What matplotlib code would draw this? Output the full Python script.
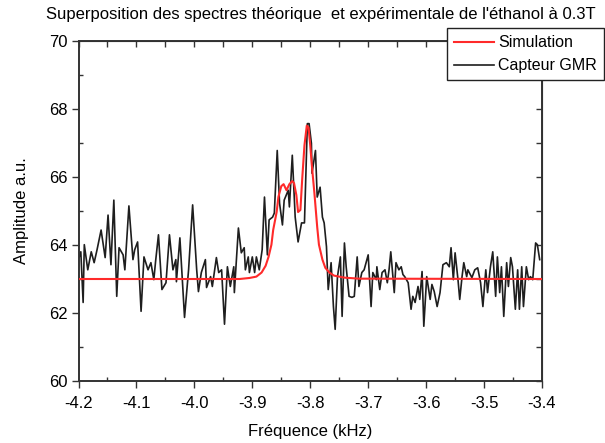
import matplotlib
matplotlib.use("Agg")
import matplotlib.pyplot as plt
from matplotlib.ticker import MultipleLocator, FormatStrFormatter

plt.rcParams['font.family'] = ['Liberation Sans', 'DejaVu Sans']

title = "Superposition des spectres théorique  et expérimentale de l'éthanol à 0.3T"
xlabel = "Fréquence (kHz)"
ylabel = "Amplitude a.u."
legend_labels = ["Simulation", "Capteur GMR"]

freq_gmr = [
    -4.199, -4.196, -4.192, -4.190, -4.184, -4.178, -4.173, -4.168, -4.161, -4.154,
    -4.149, -4.144, -4.139, -4.134, -4.130, -4.123, -4.120, -4.113, -4.106, -4.103,
    -4.098, -4.092, -4.087, -4.080, -4.075, -4.070, -4.067, -4.062, -4.056, -4.049,
    -4.043, -4.037, -4.032, -4.031, -4.025, -4.017, -4.010, -4.003, -3.996, -3.993,
    -3.988, -3.981, -3.979, -3.972, -3.969, -3.962, -3.958, -3.953, -3.948, -3.943,
    -3.938, -3.932, -3.931, -3.924, -3.919, -3.914, -3.912, -3.907, -3.905, -3.900,
    -3.896, -3.893, -3.888, -3.883, -3.879, -3.874, -3.871, -3.865, -3.862, -3.857,
    -3.853, -3.848, -3.845, -3.838, -3.836, -3.831, -3.826, -3.821, -3.815, -3.810,
    -3.805, -3.802, -3.798, -3.797, -3.791, -3.788, -3.783, -3.779, -3.776, -3.772,
    -3.769, -3.764, -3.760, -3.757, -3.753, -3.748, -3.745, -3.741, -3.738, -3.733,
    -3.728, -3.724, -3.719, -3.716, -3.711, -3.707, -3.700, -3.695, -3.692, -3.686,
    -3.685, -3.680, -3.676, -3.671, -3.667, -3.664, -3.661, -3.655, -3.652, -3.647,
    -3.643, -3.640, -3.637, -3.631, -3.626, -3.623, -3.619, -3.614, -3.611, -3.607,
    -3.604, -3.599, -3.593, -3.590, -3.586, -3.581, -3.576, -3.571, -3.565, -3.560,
    -3.557, -3.553, -3.550, -3.545, -3.542, -3.538, -3.535, -3.530, -3.528, -3.521,
    -3.516, -3.511, -3.506, -3.502, -3.497, -3.494, -3.489, -3.485, -3.480, -3.477,
    -3.473, -3.470, -3.466, -3.461, -3.458, -3.454, -3.451, -3.446, -3.442, -3.439,
    -3.435, -3.432, -3.427, -3.423, -3.420, -3.416, -3.411, -3.408, -3.404,
]

amp_gmr = [
    63.63, 63.80, 62.31, 64.01, 63.27, 63.80, 63.48, 63.86, 64.44, 63.63,
    64.88, 63.42, 65.32, 62.49, 63.92, 63.71, 63.27, 65.15, 63.57, 63.86,
    64.09, 62.05, 63.65, 63.27, 63.48, 62.98, 63.51, 64.30, 62.69, 62.89,
    64.30, 63.27, 63.57, 62.92, 64.21, 61.87, 63.27, 65.18, 63.27, 62.63,
    63.19, 63.57, 62.75, 63.07, 62.78, 63.63, 63.19, 63.27, 61.67, 63.36,
    62.78, 63.36, 62.60, 64.50, 63.77, 63.92, 63.27, 63.65, 63.19, 63.65,
    63.19, 63.65, 63.27, 63.86, 65.41, 63.71, 64.74, 64.82, 64.94, 66.78,
    65.23, 64.59, 65.32, 65.61, 65.12, 66.64, 64.82, 64.09, 64.65, 64.65,
    67.57, 67.57, 66.99, 66.11, 66.78, 65.41, 65.70, 64.82, 64.65, 63.95,
    62.69, 63.48, 62.19, 61.52, 63.07, 63.65, 61.90, 64.06, 63.36, 62.49,
    62.46, 62.49, 63.65, 62.78, 63.19, 63.27, 63.71, 62.19, 63.19, 62.98,
    63.36, 62.69, 63.19, 63.27, 62.89, 63.27, 63.80, 62.60, 63.48, 63.27,
    63.36, 63.13, 63.07, 62.89, 62.11, 62.49, 62.31, 62.78, 62.40, 63.22,
    61.61, 63.07, 62.40, 62.84, 62.63, 62.19, 62.60, 63.42, 63.48, 63.36,
    63.92, 62.98, 63.77, 62.98, 62.40, 63.07, 63.48, 63.07, 63.27, 63.04,
    63.27, 63.33, 62.89, 62.19, 63.27, 62.60, 63.36, 63.80, 62.49, 63.65,
    62.60, 63.36, 61.90, 63.48, 62.78, 63.63, 63.36, 62.11, 63.27, 62.11,
    63.36, 62.19, 63.36, 62.98, 63.07, 62.98, 64.06, 64.01, 63.57,
]

freq_sim = [
    -4.200, -3.922, -3.905, -3.893, -3.884, -3.877, -3.872, -3.867, -3.864, -3.858,
    -3.855, -3.850, -3.846, -3.841, -3.836, -3.831, -3.828, -3.824, -3.821, -3.817,
    -3.814, -3.810, -3.806, -3.803, -3.800, -3.797, -3.793, -3.788, -3.785, -3.779,
    -3.774, -3.767, -3.759, -3.741, -3.716, -3.400,
]
amp_sim = [
    63.00, 63.00, 63.03, 63.07, 63.19, 63.39, 63.65, 64.01, 64.44, 64.97,
    65.41, 65.73, 65.79, 65.61, 65.79, 65.88, 65.82, 65.47, 64.97, 65.03,
    65.91, 66.93, 67.51, 67.46, 66.93, 66.29, 65.56, 64.53, 64.01, 63.57,
    63.33, 63.19, 63.10, 63.04, 63.01, 63.00,
]

W, H = 605, 443
fig = plt.figure(figsize=(W / 100, H / 100), dpi=100)
ax = fig.add_axes([78.5 / W, 1 - 381 / H, (542 - 78.5) / W, (381 - 41) / H])

l_sim, = ax.plot(freq_sim, amp_sim, color='#ff2a2a', lw=1.5, zorder=3)
l_gmr, = ax.plot(freq_gmr, amp_gmr, color='#1e1e1e', lw=1.2, zorder=2)
ax.set_zorder(1)

ax.set_xlim(-4.2, -3.4)
ax.set_ylim(60, 70)
ax.xaxis.set_major_locator(MultipleLocator(0.1))
ax.xaxis.set_minor_locator(MultipleLocator(0.05))
ax.xaxis.set_major_formatter(FormatStrFormatter('%.1f'))
ax.yaxis.set_major_locator(MultipleLocator(2))
ax.yaxis.set_minor_locator(MultipleLocator(1))

for s in ax.spines.values():
    s.set_linewidth(1.4)
    s.set_color('#333333')

ax.tick_params(which='major', direction='out', length=5, width=1.0, color='#333333',
               labelsize=12, pad=3)
ax.tick_params(axis='x', which='major', pad=6)
ax.tick_params(which='minor', direction='in', length=3, width=1.0, color='#333333')
ax.tick_params(which='both', top=False, right=False)

# top / right inward ticks
sec_x = ax.secondary_xaxis('top')
sec_x.xaxis.set_major_locator(MultipleLocator(0.05))
sec_x.tick_params(direction='in', length=4, width=1.0, color='#333333', labeltop=False)
sec_y = ax.secondary_yaxis('right')
sec_y.yaxis.set_major_locator(MultipleLocator(1))
sec_y.tick_params(direction='in', length=4, width=1.0, color='#333333', labelright=False)

ax.set_xlabel(xlabel, fontsize=12, labelpad=9)
ax.set_ylabel(ylabel, fontsize=12, labelpad=14)

fig.text(321 / W, 1 - 15 / H, title, ha='center', va='center', fontsize=12)

leg = fig.legend([l_sim, l_gmr], legend_labels, loc='upper left',
                 bbox_to_anchor=(447 / W, 1 - 28 / H), bbox_transform=fig.transFigure,
                 fontsize=11.5, frameon=True, fancybox=False, framealpha=1,
                 edgecolor='#222222', borderaxespad=0, borderpad=0.45,
                 handlelength=2.5, handletextpad=0.25, labelspacing=0.5)
leg.get_frame().set_linewidth(1.0)

fig.savefig('out.png', dpi=100)
